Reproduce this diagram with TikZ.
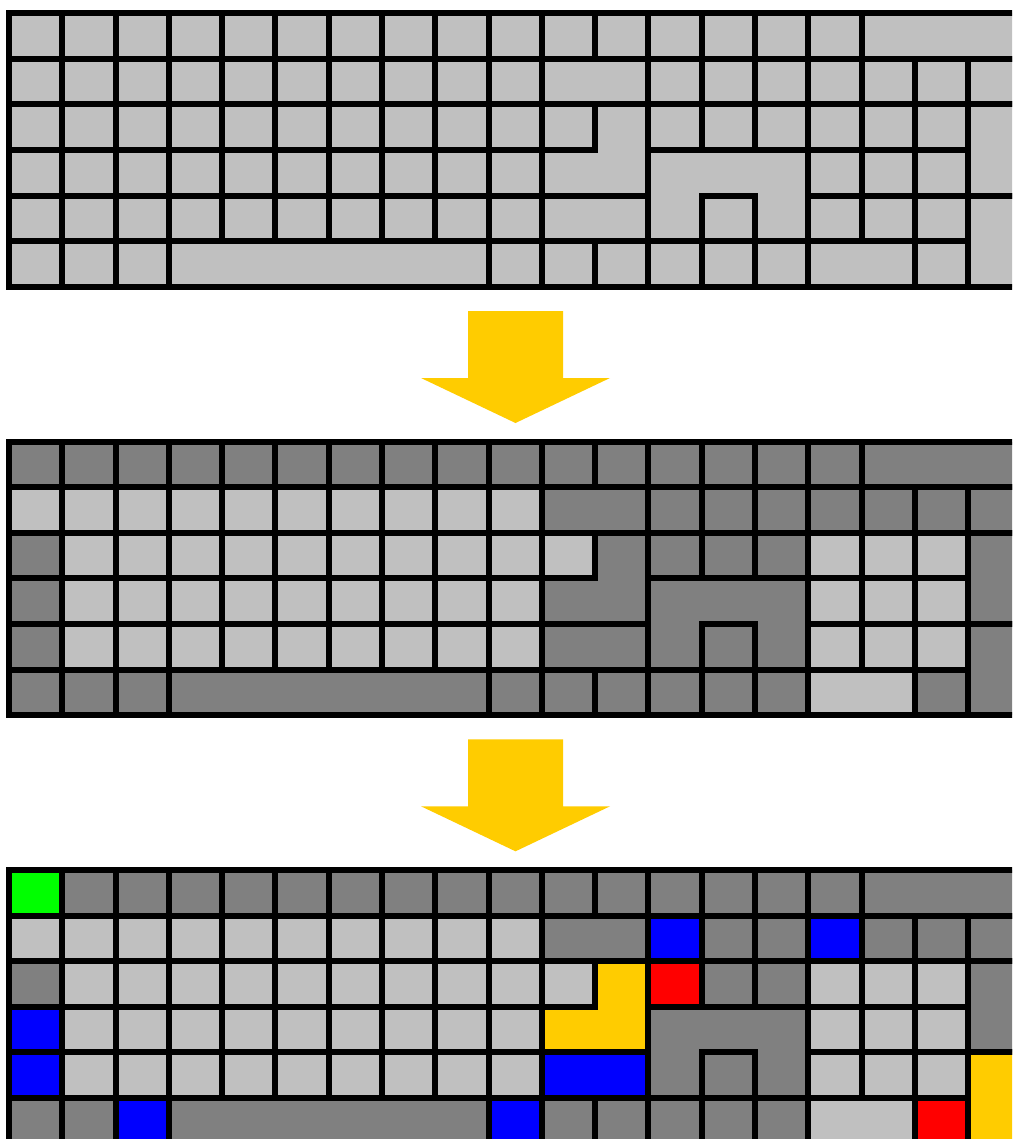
\documentclass[tikz,border=0pt]{standalone}
\usepackage{tikz}

\definecolor{lgray}{HTML}{C0C0C0}
\definecolor{dgray}{HTML}{808080}
\definecolor{gold}{HTML}{FFCC00}

% one square of the board, and a row of them
\newcommand{\sq}[3]{\filldraw[tile, fill=#1] (#2,#3) rectangle ++(1,1);}
\newcommand{\sqrow}[3]{\foreach \i in {#3} {\sq{#1}{\i}{#2}}}

% the nine larger pieces
\newcommand{\bigpieces}[9]{%
    \filldraw[tile, fill=#1] (16,0) rectangle (19,1);
    \filldraw[tile, fill=#2] (10,1) rectangle (12,2);
    \filldraw[tile, fill=#3] (11,2) -- (12,2) -- (12,4) -- (10,4) -- (10,3) -- (11,3) -- cycle;
    \filldraw[tile, fill=#4] (12,3) -- (15,3) -- (15,5) -- (14,5) -- (14,4) -- (13,4) -- (13,5) -- (12,5) -- cycle;
    \filldraw[tile, fill=#5] (18,2) rectangle (19,4);
    \filldraw[tile, fill=#6] (10,4) rectangle (12,5);
    \filldraw[tile, fill=#7] (18,4) rectangle (19,6);
    \filldraw[tile, fill=#8] (3,5) rectangle (9,6);
    \filldraw[tile, fill=#9] (15,5) rectangle (17,6);
}

% block arrow between two boards
\newcommand{\stagearrow}[1]{%
    \fill[gold, shift={(0,#1)}] (468,311) -- (563,311) -- (563,378) -- (610,378)
        -- (515.5,423) -- (421,378) -- (468,378) -- cycle;
}

\begin{document}
\begin{tikzpicture}[
        x=0.02cm, y=-0.02cm,
        tile/.style={draw=black, line width=0.12cm},
        board/.style={x=1.066cm, y=-0.912cm}
    ]
        \useasboundingbox (0,0) rectangle (1012,1139);
        \fill[white] (0,0) rectangle (1012,1139);
        \clip (0,0) rectangle (1012,1139);

        % Board 1
        \begin{scope}[shift={(9,13.3)}, board]
            \sqrow{lgray}{0}{0,...,15}
            \sqrow{lgray}{1}{0,...,9}  \sqrow{lgray}{1}{12,...,18}
            \sqrow{lgray}{2}{0,...,10} \sqrow{lgray}{2}{12,...,17}
            \sqrow{lgray}{3}{0,...,9}  \sqrow{lgray}{3}{15,16,17}
            \sqrow{lgray}{4}{0,...,9}  \sqrow{lgray}{4}{13,15,16,17}
            \sqrow{lgray}{5}{0,1,2,9,10,11,12,13,14,17}
            \bigpieces{lgray}{lgray}{lgray}{lgray}{lgray}{lgray}{lgray}{lgray}{lgray}
        \end{scope}

        \stagearrow{0}

        % Board 2
        \begin{scope}[shift={(9,441.6)}, board]
            \sqrow{dgray}{0}{0,...,15}
            \sqrow{lgray}{1}{0,...,9}  \sqrow{dgray}{1}{12,...,18}
            \sqrow{dgray}{2}{0} \sqrow{lgray}{2}{1,...,10} \sqrow{dgray}{2}{12,13,14} \sqrow{lgray}{2}{15,16,17}
            \sqrow{dgray}{3}{0} \sqrow{lgray}{3}{1,...,9}  \sqrow{lgray}{3}{15,16,17}
            \sqrow{dgray}{4}{0} \sqrow{lgray}{4}{1,...,9}  \sqrow{dgray}{4}{13} \sqrow{lgray}{4}{15,16,17}
            \sqrow{dgray}{5}{0,1,2,9,10,11,12,13,14,17}
            \bigpieces{dgray}{dgray}{dgray}{dgray}{dgray}{dgray}{dgray}{dgray}{lgray}
        \end{scope}

        \stagearrow{428.3}

        % Board 3
        \begin{scope}[shift={(9,869.9)}, board]
            \sqrow{green}{0}{0} \sqrow{dgray}{0}{1,...,15}
            \sqrow{lgray}{1}{0,...,9} \sqrow{blue}{1}{12,15} \sqrow{dgray}{1}{13,14,16,17,18}
            \sqrow{dgray}{2}{0} \sqrow{lgray}{2}{1,...,10} \sqrow{red}{2}{12} \sqrow{dgray}{2}{13,14} \sqrow{lgray}{2}{15,16,17}
            \sqrow{blue}{3}{0}  \sqrow{lgray}{3}{1,...,9}  \sqrow{lgray}{3}{15,16,17}
            \sqrow{blue}{4}{0}  \sqrow{lgray}{4}{1,...,9}  \sqrow{dgray}{4}{13} \sqrow{lgray}{4}{15,16,17}
            \sqrow{dgray}{5}{0,1,10,11,12,13,14} \sqrow{blue}{5}{2,9} \sqrow{red}{5}{17}
            \bigpieces{dgray}{dgray}{gold}{dgray}{dgray}{blue}{gold}{dgray}{lgray}
        \end{scope}
    \end{tikzpicture}
\end{document}
